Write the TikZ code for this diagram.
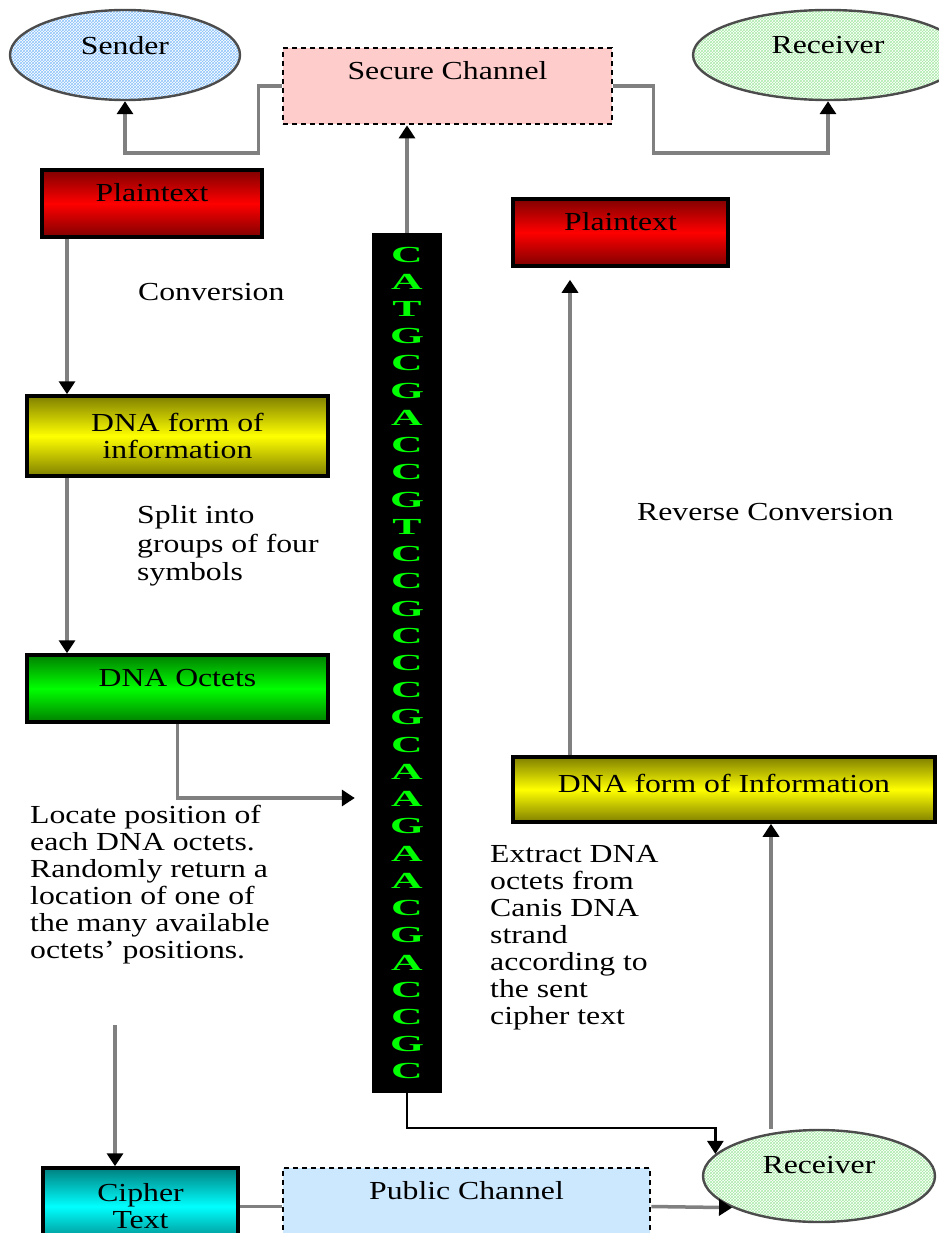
\documentclass[tikz,border=0pt]{standalone}
\usepackage{fontspec}
\setmainfont{Liberation Serif}[FakeStretch=1.22]
\newfontfamily\dnafont{Liberation Serif}[FakeStretch=1.9, BoldFeatures={FakeStretch=1.9}]
\usetikzlibrary{shapes.geometric,arrows.meta,patterns,calc}
\definecolor{pinkfill}{RGB}{255,204,204}
\definecolor{bluefill}{RGB}{204,232,255}
\definecolor{hatchblue}{RGB}{140,195,250}
\definecolor{hatchgreen}{RGB}{170,235,170}
\definecolor{dnagreen}{RGB}{0,255,0}
\begin{document}
\begin{tikzpicture}[x=1pt,y=-1pt,
  every node/.style={font=\fontsize{26}{27}\selectfont, inner sep=0pt},
  box/.style={draw=black, line width=3.5pt, rectangle, align=center},
  grad/.style 2 args={top color=#1, bottom color=#1, middle color=#2},
  chan/.style={draw=black, line width=2.8pt, dash pattern=on 5pt off 4pt, rectangle, align=center},
  ell/.style={ellipse, draw=black!70, line width=2.4pt, align=center},
  hatch/.style={preaction={fill=white}, pattern=crosshatch, pattern color=#1},
  line/.style={draw=black!50, line width=3.5pt},
  conn/.style={line, -{Triangle[length=13pt,width=16pt,color=black]}},
  lbl/.style={anchor=west, align=left}
]
\useasboundingbox (0,0) rectangle (938,1233);

% top row
\node[ell, hatch=hatchblue, minimum width=230pt, minimum height=90pt, text depth=20pt] (sender) at (125,55) {Sender};
\node[chan, fill=pinkfill, minimum width=329pt, minimum height=76pt, text depth=32pt] (sc) at (447.5,86) {Secure Channel};
\node[ell, hatch=hatchgreen, minimum width=270pt, minimum height=90pt, text depth=20pt] (recv) at (828,55) {Receiver};

% left column
\node[box, grad={red!50!black}{red}, minimum width=220pt, minimum height=67pt, text depth=22pt] (pt1) at (152,203.5) {Plaintext};
\node[box, grad={yellow!50!black}{yellow}, minimum width=301pt, minimum height=80pt] (dl) at (177.5,436) {DNA form of\\information};
\node[box, grad={green!50!black}{green}, minimum width=301pt, minimum height=67pt, text depth=21pt] (oct) at (177.5,688.5) {DNA Octets};

% strand
\node[rectangle, fill=black, minimum width=70pt, minimum height=860pt, align=center, text=dnagreen,
  font=\dnafont\bfseries\fontsize{23}{27.23}\selectfont] (strand) at (407,663)
  {C\\A\\T\\G\\C\\G\\A\\C\\C\\G\\T\\C\\C\\G\\C\\C\\C\\G\\C\\A\\A\\G\\A\\A\\C\\G\\A\\C\\C\\G\\C};

% right column
\node[box, grad={red!50!black}{red}, minimum width=215pt, minimum height=67pt, text depth=23pt] (pt2) at (620.5,232.5) {Plaintext};
\node[box, grad={yellow!50!black}{yellow}, minimum width=422pt, minimum height=65pt, text depth=13pt] (dr) at (724,789.5) {DNA form of Information};

% bottom row
\node[box, grad={cyan!50!black}{cyan}, minimum width=195pt, minimum height=77pt] (ct) at (140.5,1206.5) {Cipher\\Text};
\node[chan, fill=bluefill, minimum width=367pt, minimum height=82pt, text depth=38pt] (pub) at (466.5,1209) {Public Channel};
\node[ell, hatch=hatchgreen, minimum width=232pt, minimum height=92pt, text depth=22pt] (recv2) at (819,1176) {Receiver};

% labels
\node[lbl] (lconv) at (138,292) {Conversion};
\node[lbl, font=\fontsize{26}{28.5}\selectfont] (lsplit) at (137,546) {Split into\\groups of four\\symbols};
\node[lbl] (lloc) at (30,885) {Locate position of\\each DNA octets.\\Randomly return a\\location of one of\\the many available\\octets' positions.};
\node[lbl] (lrev) at (637,512) {Reverse Conversion};
\node[lbl] (lext) at (490,938) {Extract DNA\\octets from\\Canis DNA\\strand\\according to\\the sent\\cipher text};

% helper coordinates
\coordinate (yl) at (0,153);
\coordinate (xl) at (67,0);
\coordinate (yo) at (0,798);
\coordinate (xc) at (115,1025);
\coordinate (yb) at (0,1128);
\coordinate (xr) at (771,0);
\coordinate (xp) at (570,0);

% connectors
\draw[conn] (sc.west) -- ++(-23,0) |- (sender.south |- yl) -- (sender.south);
\draw[conn] (sc.east) -- ++(40,0) |- (recv.south |- yl) -- (recv.south);
\draw[conn] (strand.north) -- (strand.north |- sc.south);
\draw[conn] (xl |- pt1.south) -- (xl |- dl.north);
\draw[conn] (xl |- dl.south) -- (xl |- oct.north);
\draw[conn] (oct.south) |- ([xshift=-17pt]strand.west |- yo);
\draw[conn] (xc) -- (xc |- ct.north);
\draw[line] (ct.east) -- (ct.east -| pub.west);
\draw[conn] (pub.east |- ct.east) -- (recv2.200);
\draw[conn, draw=black, line width=2.5pt] (strand.south) -- (strand.south |- yb) -| (recv2.168);
\draw[conn] (xr |- recv2.north) -- (xr |- dr.south);
\draw[conn, shorten >=12pt] (xp |- dr.north) -- (xp |- pt2.south);
\end{tikzpicture}
\end{document}
